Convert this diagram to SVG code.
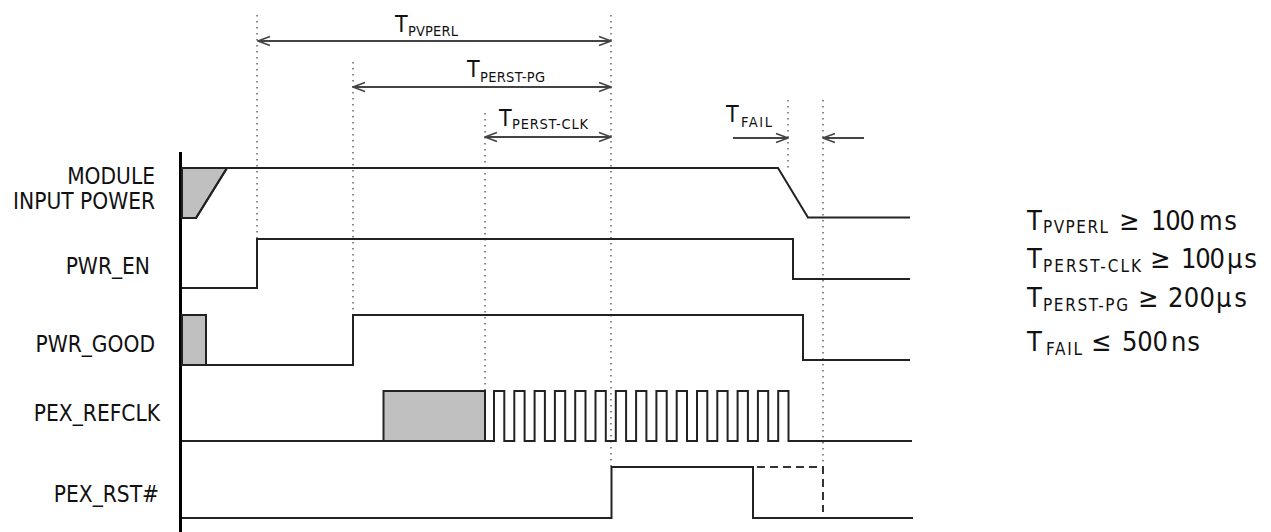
<svg xmlns="http://www.w3.org/2000/svg" width="1271" height="532" viewBox="0 0 1271 532">
<style>
text{font-family:"DejaVu Sans Condensed","DejaVu Sans",sans-serif;font-stretch:condensed;fill:#111}
.lbl{font-size:22.5px;text-anchor:end}
.tb{font-size:23px}
.ts{font-size:14.5px}
.fb{font-size:27px}
.fs{font-size:17px}
.sig{fill:none;stroke:#222;stroke-width:2}
.gray{fill:#c0c0c0;stroke:#222;stroke-width:2}
.dot{fill:none;stroke:#666;stroke-width:1.5;stroke-dasharray:1.5 4.5}
.dash{fill:none;stroke:#333;stroke-width:2;stroke-dasharray:8 5}
.arr{fill:none;stroke:#444;stroke-width:2}
</style>
<defs>
<marker id="ah" viewBox="0 0 14 12" refX="13" refY="6" markerWidth="14" markerHeight="12" markerUnits="userSpaceOnUse" orient="auto-start-reverse">
<path d="M1,1.5 L13,6 L1,10.5" fill="none" stroke="#444" stroke-width="1.6"/>
</marker>
</defs>
<rect width="1271" height="532" fill="#fff"/>

<g id="axis"><line x1="180.5" y1="152" x2="180.5" y2="532" stroke="#000" stroke-width="3"/></g>

<g id="connectors">
<line class="dot" x1="257" y1="15" x2="257" y2="239"/>
<line class="dot" x1="353" y1="62" x2="353" y2="315"/>
<line class="dot" x1="485" y1="113" x2="485" y2="391"/>
<line class="dot" x1="611" y1="15" x2="611" y2="467"/>
<line class="dot" x1="788" y1="100" x2="788" y2="172"/>
<line class="dot" x1="823" y1="100" x2="823" y2="467"/>
<line class="arr" x1="258" y1="41" x2="611" y2="41" marker-start="url(#ah)" marker-end="url(#ah)"/>
<line class="arr" x1="353" y1="87" x2="611" y2="87" marker-start="url(#ah)" marker-end="url(#ah)"/>
<line class="arr" x1="485" y1="137" x2="611" y2="137" marker-start="url(#ah)" marker-end="url(#ah)"/>
<line class="arr" x1="733" y1="138" x2="788" y2="138" marker-end="url(#ah)"/>
<line class="arr" x1="864" y1="138" x2="823" y2="138" marker-end="url(#ah)"/>
</g>

<g id="timing-labels">
<text class="tb" x="395" y="32">T</text><text class="ts" x="408" y="36" textLength="50">PVPERL</text>
<text class="tb" x="467" y="77">T</text><text class="ts" x="480" y="82" textLength="65">PERST-PG</text>
<text class="tb" x="499" y="126">T</text><text class="ts" x="512" y="129" textLength="76">PERST-CLK</text>
<text class="tb" x="726" y="122">T</text><text class="ts" x="741" y="127" textLength="31">FAIL</text>
</g>

<g id="module-input-power">
<text class="lbl" x="155" y="184">MODULE</text>
<text class="lbl" x="155" y="209">INPUT POWER</text>
<polygon class="gray" points="182,168 227,168 196,218 182,218" stroke="none"/>
<path class="sig" d="M182,218 H196 L227,168 H778 L808,217.5 H910"/>
</g>

<g id="pwr-en">
<text class="lbl" x="150" y="274">PWR_EN</text>
<path class="sig" d="M182,288 H257 V239 H793 V279 H910"/>
</g>

<g id="pwr-good">
<text class="lbl" x="155" y="352">PWR_GOOD</text>
<rect class="gray" x="182" y="315" width="24" height="50"/>
<path class="sig" d="M182,365 H353 V315 H803 V360 H910"/>
</g>

<g id="pex-refclk">
<text class="lbl" x="160" y="421">PEX_REFCLK</text>
<rect class="gray" x="383.5" y="391" width="101.5" height="50"/>
<path class="sig" d="M182,441 H494 V391 H504.3 V441 H514.3 V391 H524.6 V441 H534.6 V391 H544.9 V441 H554.9 V391 H565.2 V441 H575.2 V391 H585.5 V441 H595.5 V391 H605.8 V441 H615.8 V391 H626.1 V441 H636.1 V391 H646.4 V441 H656.4 V391 H666.7 V441 H676.7 V391 H687 V441 H697 V391 H707.3 V441 H717.3 V391 H727.6 V441 H737.6 V391 H747.9 V441 H757.9 V391 H768.2 V441 H778.2 V391 H788.5 V441 H912"/>
</g>

<g id="pex-rst">
<text class="lbl" x="159" y="502">PEX_RST#</text>
<path class="sig" d="M182,518 H611.5 V467 H753 V518 H913"/>
<path class="dash" d="M757,467 H823 V512"/>
</g>

<g id="formulas">
<text class="fb" x="1027" y="230">T</text><text class="fs" x="1043" y="233" textLength="65">PVPERL</text>
<text class="fb" x="1119" y="230">≥</text>
<text class="fb" x="1151" y="230" textLength="44">100</text><text class="fb" x="1199" y="230" textLength="38">ms</text>

<text class="fb" x="1027" y="268">T</text><text class="fs" x="1043" y="272" textLength="98">PERST-CLK</text>
<text class="fb" x="1150" y="268">≥</text>
<text class="fb" x="1181" y="268" textLength="44">100</text><text class="fb" x="1227" y="268" textLength="30">μs</text>

<text class="fb" x="1027" y="307">T</text><text class="fs" x="1043" y="311" textLength="85">PERST-PG</text>
<text class="fb" x="1138" y="307">≥</text>
<text class="fb" x="1168" y="307" textLength="47">200</text><text class="fb" x="1216" y="307" textLength="31">μs</text>

<text class="fb" x="1027" y="351">T</text><text class="fs" x="1046" y="355" textLength="36">FAIL</text>
<text class="fb" x="1091" y="351">≤</text>
<text class="fb" x="1122" y="351" textLength="46">500</text><text class="fb" x="1171" y="351" textLength="29">ns</text>
</g>
</svg>
